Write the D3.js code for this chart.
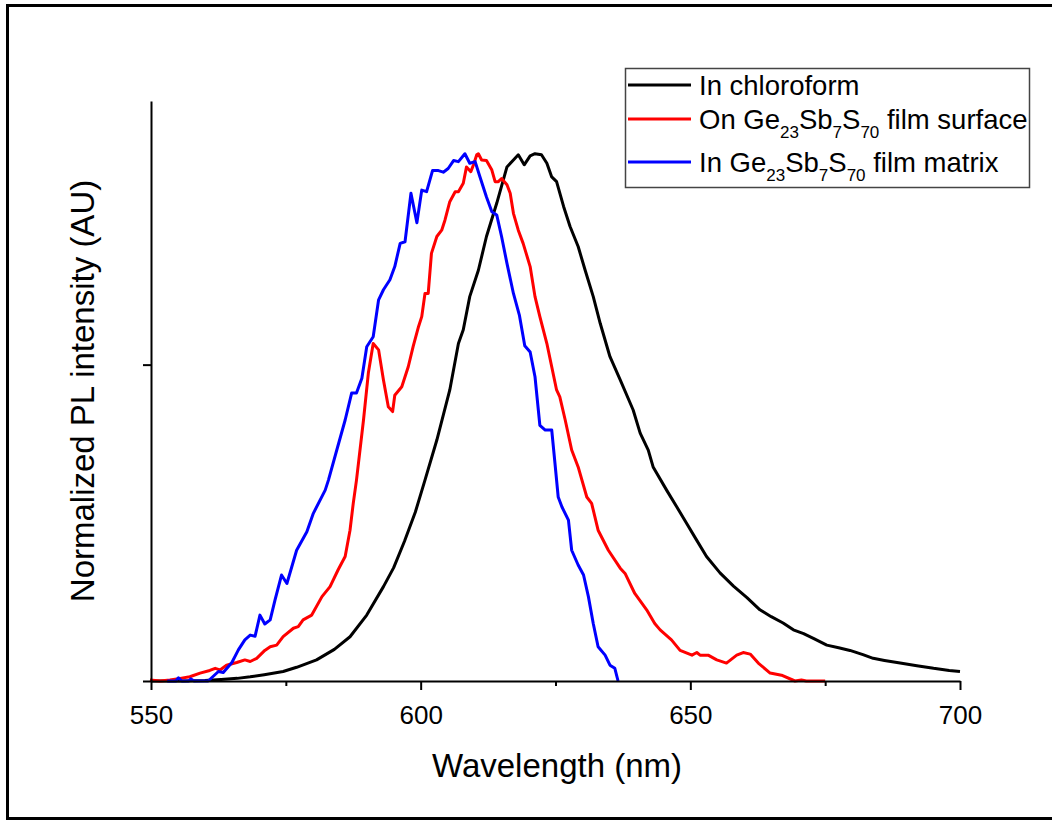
<!DOCTYPE html>
<html>
<head>
<meta charset="utf-8">
<script src="https://cdn.jsdelivr.net/npm/d3@7"></script>
<style>
  html, body { margin: 0; padding: 0; background: #fff; }
  svg { display: block; font-family: "Liberation Sans", Arial, sans-serif; }
</style>
</head>
<body>
<svg id="chart" width="1052" height="820"></svg>
<script>
// Photoluminescence spectra, normalized to the peak of each curve.
// Each series: [wavelength (nm), normalized intensity]
const chloroform = [
  [550, 0], [556, 0], [560, 0.001], [563, 0.003], [566, 0.005], [568.4, 0.008], [571, 0.012],
  [574.5, 0.018], [577, 0.026], [580.7, 0.040], [584, 0.060], [586.9, 0.084], [590, 0.125],
  [593.1, 0.179], [595, 0.215], [597, 0.265], [599, 0.32], [600.8, 0.381], [603, 0.457],
  [605.4, 0.552], [607, 0.640], [607.9, 0.666], [609.1, 0.729], [610.7, 0.779], [612.2, 0.843],
  [614.1, 0.906], [616, 0.975], [617.2, 0.988], [618.1, 0.998], [619.2, 0.979], [620.3, 0.996],
  [621.2, 1.0], [622.4, 0.998], [623.4, 0.982], [624.3, 0.956], [625.2, 0.947], [626.5, 0.900],
  [627.7, 0.862], [629.2, 0.824], [630.5, 0.779], [632, 0.729], [633.3, 0.678], [635.1, 0.615],
  [637, 0.571], [639.4, 0.514], [640.7, 0.470], [642.2, 0.438], [643.1, 0.406], [645.6, 0.362],
  [647.5, 0.330], [649.3, 0.299], [651, 0.270], [653, 0.236], [655.5, 0.205], [658, 0.180],
  [660.5, 0.158], [662.9, 0.135], [665, 0.122], [667.2, 0.110], [669.1, 0.097], [671, 0.090],
  [673, 0.080], [675.3, 0.068], [677.5, 0.063], [679.6, 0.058], [682, 0.050], [683.9, 0.043],
  [686, 0.039], [688.9, 0.034], [692, 0.029], [695.1, 0.024], [698, 0.020], [700, 0.018]
];

const filmSurface = [
  [549.8, 0.002], [551.7, 0], [553.5, 0.002], [555.4, 0.005], [557.2, 0.008], [559.1, 0.015],
  [560.9, 0.020], [561.9, 0.024], [562.8, 0.021], [564, 0.030], [565.9, 0.035], [567.4, 0.040],
  [568.4, 0.037], [569.6, 0.043], [571.1, 0.058], [572.1, 0.065], [573.3, 0.068], [574.5, 0.084],
  [576.4, 0.100], [577.3, 0.103], [578.2, 0.116], [579.8, 0.125], [581.7, 0.160], [583.2, 0.179],
  [584.7, 0.211], [586, 0.236], [586.9, 0.286], [587.5, 0.337], [588.1, 0.381], [589.4, 0.495],
  [590.3, 0.584], [591.2, 0.640], [592.2, 0.628], [593.1, 0.571], [594, 0.520], [594.8, 0.511],
  [595.2, 0.542], [596.5, 0.558], [597.7, 0.596], [598.6, 0.634], [599.6, 0.672], [600.2, 0.691],
  [600.8, 0.735], [601.4, 0.735], [602, 0.811], [603, 0.843], [603.9, 0.855], [604.5, 0.874],
  [605.4, 0.909], [606.4, 0.928], [607, 0.928], [607.9, 0.944], [608.5, 0.975], [609.3, 0.966],
  [609.8, 0.979], [610.4, 0.998], [610.7, 1.0], [611.3, 0.988], [612.2, 0.987], [613.2, 0.969],
  [613.8, 0.947], [614.4, 0.947], [615, 0.953], [616, 0.941], [616.6, 0.925], [617.2, 0.887],
  [618.1, 0.855], [619, 0.830], [620.3, 0.786], [621.2, 0.729], [622.1, 0.691], [623.4, 0.640],
  [624.3, 0.596], [625.2, 0.552], [625.8, 0.539], [626.8, 0.495], [628, 0.438], [629.2, 0.406],
  [630.8, 0.349], [631.7, 0.337], [632.9, 0.286], [634.8, 0.248], [637, 0.214], [637.9, 0.204],
  [639.7, 0.166], [641.9, 0.135], [643.4, 0.109], [644.4, 0.097], [646.5, 0.078], [648.1, 0.058],
  [650.3, 0.049], [651.2, 0.054], [651.8, 0.049], [653.3, 0.049], [654.9, 0.040], [656.7, 0.034],
  [658.6, 0.049], [659.8, 0.054], [661.1, 0.051], [662.6, 0.034], [664.8, 0.015], [666.9, 0.011],
  [669.4, 0], [670.6, 0.002], [671.5, 0], [675, 0]
];

const filmMatrix = [
  [553, 0], [554.6, 0], [555.1, 0.006], [555.7, 0], [557, 0], [557.4, 0.004], [558, 0],
  [560.6, 0], [562.5, 0.018], [563.4, 0.016], [565, 0.035], [566.2, 0.059], [567.4, 0.078],
  [568.4, 0.087], [569.3, 0.085], [570.2, 0.125], [571.1, 0.108], [572.1, 0.116], [573, 0.154],
  [574.2, 0.201], [575.2, 0.185], [577, 0.248], [578.9, 0.283], [580.1, 0.318], [582.3, 0.362],
  [582.9, 0.381], [584.5, 0.44], [586, 0.495], [587.2, 0.546], [588.1, 0.546], [589.1, 0.574],
  [590, 0.634], [591.2, 0.653], [592.2, 0.723], [593.1, 0.742], [594.3, 0.761], [595.2, 0.786],
  [596.2, 0.830], [597.1, 0.833], [598.2, 0.925], [599.3, 0.869], [600.2, 0.931], [601.1, 0.928],
  [602.2, 0.968], [603.3, 0.968], [604.2, 0.965], [605.1, 0.972], [606.1, 0.987], [607, 0.985],
  [608.2, 1.0], [609.1, 0.982], [610.1, 0.985], [611, 0.956], [612.2, 0.918], [613.2, 0.890],
  [614.1, 0.884], [615, 0.843], [616, 0.792], [617.2, 0.735], [618.3, 0.694], [619.3, 0.636],
  [620.3, 0.624], [621.2, 0.577], [622.1, 0.485], [623.1, 0.476], [624.3, 0.476], [624.9, 0.413],
  [625.5, 0.349], [626.2, 0.330], [627.4, 0.305], [628, 0.248], [629.2, 0.220], [630.2, 0.201],
  [631.1, 0.160], [632, 0.109], [632.9, 0.065], [634.2, 0.049], [635.1, 0.030], [636, 0.024],
  [636.6, 0]
];

const seriesNames = ["In chloroform", "On Ge23Sb7S70 film surface", "In Ge23Sb7S70 film matrix"];
const seriesColors = ["#000000", "#ff0000", "#0000ff"];
const xMajorTicks = [550, 600, 650, 700];
const xMinorTicks = [575, 625, 675];
const yTicks = [0, 0.6];

const svg = d3.select("#chart");

// Outer figure frame
svg.append("rect")
  .attr("x", 7.5).attr("y", 5.5)
  .attr("width", 1100).attr("height", 813)
  .attr("fill", "none").attr("stroke", "#000").attr("stroke-width", 3);

const x = d3.scaleLinear().domain([550, 700]).range([151, 960]);
const y = d3.scaleLinear().domain([0, 1.1]).range([681, 101]);

const line = d3.line().x(d => x(d[0])).y(d => y(d[1]));

const series = [chloroform, filmSurface, filmMatrix];
// Black first, then red, then blue on top
series.forEach((s, i) => {
  svg.append("path")
    .datum(s)
    .attr("fill", "none")
    .attr("stroke", seriesColors[i])
    .attr("stroke-width", 3)
    .attr("stroke-linejoin", "round")
    .attr("d", line);
});

// X axis: major ticks with labels, minor ticks without
const xAxis = svg.append("g").attr("transform", `translate(0,${y(0)})`)
  .call(d3.axisBottom(x).tickValues(xMajorTicks).tickSize(9).tickSizeOuter(0).tickFormat(d3.format("d")));
xAxis.select(".domain").attr("stroke-width", 2);
xAxis.selectAll(".tick line").attr("stroke-width", 2);
xAxis.selectAll(".tick text").attr("font-size", 26).attr("font-family", "Liberation Sans, Arial, sans-serif")
  .attr("fill", "#000").attr("dy", "1.2em");

const xMinor = svg.append("g").attr("transform", `translate(0,${y(0)})`)
  .call(d3.axisBottom(x).tickValues(xMinorTicks).tickSize(5).tickSizeOuter(0).tickFormat(""));
xMinor.select(".domain").remove();
xMinor.selectAll(".tick line").attr("stroke-width", 2);

// Y axis: ticks only, no labels
const yAxis = svg.append("g").attr("transform", `translate(${x(550)},0)`)
  .call(d3.axisLeft(y).tickValues(yTicks).tickSize(8).tickSizeOuter(0).tickFormat(""));
yAxis.select(".domain").attr("stroke-width", 2);
yAxis.selectAll(".tick line").attr("stroke-width", 2);

// Axis titles
svg.append("text")
  .attr("x", 557).attr("y", 777)
  .attr("text-anchor", "middle")
  .attr("font-size", 33)
  .text("Wavelength (nm)");

svg.append("text")
  .attr("transform", "translate(94,391) rotate(-90)")
  .attr("text-anchor", "middle")
  .attr("font-size", 33)
  .text("Normalized PL intensity (AU)");

// Legend
const legend = svg.append("g");
legend.append("rect")
  .attr("x", 625.5).attr("y", 68.5).attr("width", 404).attr("height", 119)
  .attr("fill", "#fff").attr("stroke", "#444").attr("stroke-width", 1.5);

const rowLineY = [85, 119, 162];
const parts = [
  [["In chloroform", false]],
  [["On Ge", false], ["23", true], ["Sb", false], ["7", true], ["S", false], ["70", true], [" film surface", false]],
  [["In Ge", false], ["23", true], ["Sb", false], ["7", true], ["S", false], ["70", true], [" film matrix", false]]
];

seriesNames.forEach((name, i) => {
  legend.append("line")
    .attr("x1", 628).attr("x2", 691)
    .attr("y1", rowLineY[i]).attr("y2", rowLineY[i])
    .attr("stroke", seriesColors[i]).attr("stroke-width", 3);
  const t = legend.append("text")
    .attr("x", 699).attr("y", rowLineY[i] + 10)
    .attr("font-size", 27.5)
    .attr("xml:space", "preserve");
  t.append("title").text(name);
  let shifted = false;
  parts[i].forEach(([str, sub]) => {
    const ts = t.append("tspan").text(str);
    if (sub) {
      ts.attr("font-size", 17).attr("dy", shifted ? 0 : 9);
      shifted = true;
    } else {
      if (shifted) ts.attr("dy", -9);
      shifted = false;
    }
  });
});
</script>
</body>
</html>
